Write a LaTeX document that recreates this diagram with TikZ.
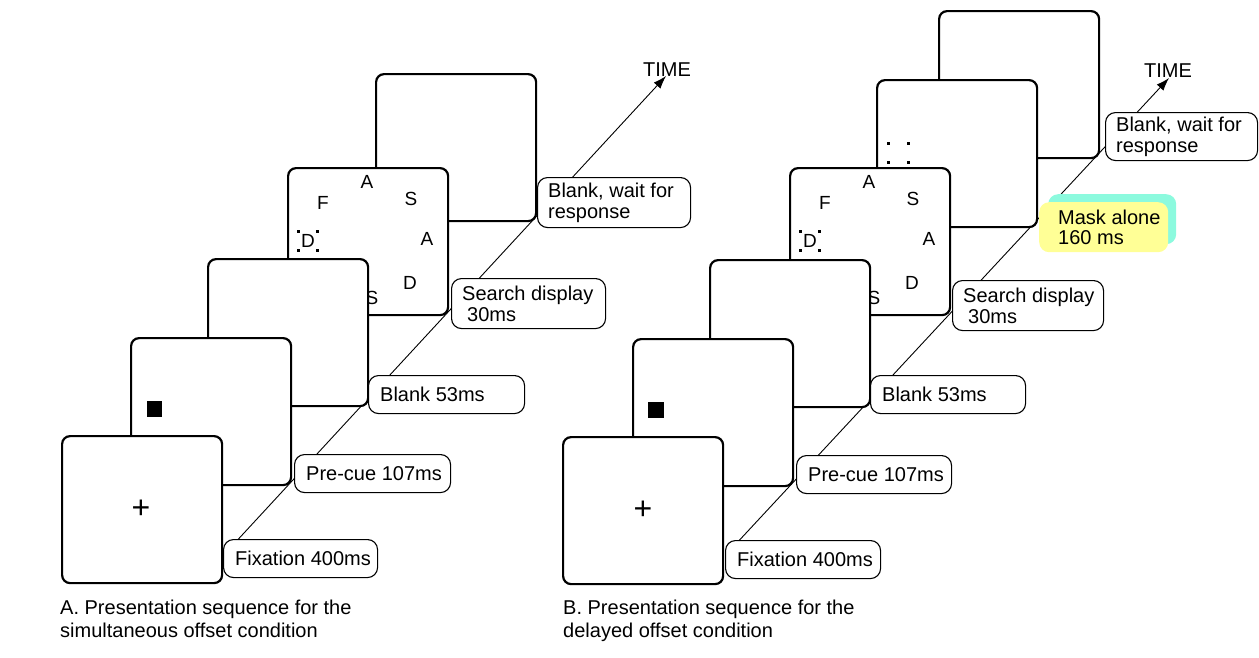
\documentclass[tikz,border=0pt]{standalone}
\usepackage{fontspec}
\setmainfont{Liberation Sans}
\usetikzlibrary{arrows.meta}
\definecolor{maskyellow}{RGB}{255,255,150}
\definecolor{maskcyan}{RGB}{140,250,222}
\newcommand\searchcontent{%
  \node[letter] (l1) at (367,182) {A};
  \node[letter] (l2) at (323,203) {F};
  \node[letter] (l3) at (411,199) {S};
  \node[letter] (l4) at (308,241) {D};
  \node[letter] (l5) at (427,239) {A};
  \node[letter] (l6) at (410,283) {D};
  \node[letter] (l7) at (372,298) {S};
  \fill (297,229.5) rectangle ++(3,3);
  \fill (316,229.5) rectangle ++(3,3);
  \fill (297,248.5) rectangle ++(3,3);
  \fill (316,248.5) rectangle ++(3,3);
}
\begin{document}
\begin{tikzpicture}[x=1pt,y=-1pt,
  frame/.style={draw, line width=2.2pt, rounded corners=8pt, fill=white,
    anchor=north west, minimum width=160pt, minimum height=147pt, inner sep=0pt},
  lab/.style={draw, line width=1.1pt, rounded corners=10pt, fill=white,
    anchor=north west, inner sep=0pt},
  labtext/.style={anchor=west, inner sep=0pt, align=left,
    font=\fontsize{20}{21}\selectfont},
  letter/.style={font=\fontsize{19}{19}\selectfont, inner sep=0pt},
  timearrow/.style={line width=0.9pt, -{Latex[length=13pt,width=9pt]}},
  txt/.style={font=\fontsize{20}{23}\selectfont, inner sep=0pt}]
\useasboundingbox (0,0) rectangle (1259,657);

% ---------------- Panel A ----------------
\coordinate (tA0) at (232,546);
\coordinate (tA1) at (666,76);
\draw[timearrow] (tA0) -- (tA1);
\node[txt] (timeA) at (667,70) {TIME};

\node[frame] (a5) at (375,73) {};
\node[frame] (a4) at (287,167) {};
\searchcontent
\node[frame] (a3) at (207,258) {};
\node[frame] (a2) at (130,337) {};
\fill (147,401) rectangle (162,417);
\node[frame] (a1) at (61,435) {};
\node[font=\fontsize{32}{32}\selectfont, inner sep=0pt] (fixcrossA) at (141,509) {+};

\node[lab, minimum width=154pt, minimum height=38pt] (fixA) at (223,539) {};
\node[labtext] (fixAt) at ([xshift=12pt]fixA.west) {Fixation 400ms};
\node[lab, minimum width=156pt, minimum height=38pt] (preA) at (294,454) {};
\node[labtext] (preAt) at ([xshift=12pt]preA.west) {Pre-cue 107ms};
\node[lab, minimum width=156pt, minimum height=38pt] (blankA) at (368,375) {};
\node[labtext] (blankAt) at ([xshift=12pt]blankA.west) {Blank 53ms};
\node[lab, minimum width=154pt, minimum height=50pt] (searchA) at (451,278) {};
\node[labtext] (searchAt) at ([xshift=11pt]searchA.west) {Search display\\\hspace*{5pt}30ms};
\node[lab, minimum width=153pt, minimum height=50pt] (waitA) at (537,177) {};
\node[labtext] (waitAt) at ([xshift=11pt]waitA.west) {Blank, wait for\\response};

\node[txt, anchor=north west, align=left] (capA) at (60,600) {A. Presentation sequence for the\\simultaneous offset condition};

% ---------------- Panel B ----------------
\coordinate (tB0) at (734,546);
\coordinate (tB1) at (1169,78);
\draw[timearrow] (tB0) -- (tB1);
\node[txt] (timeB) at (1168,71) {TIME};

\node[frame] (b6) at (938,10) {};
\node[frame] (b5) at (876,79) {};
\fill (886.5,141.5) rectangle ++(3,3);
\fill (906.5,141.5) rectangle ++(3,3);
\fill (886.5,160.5) rectangle ++(3,3);
\fill (906.5,160.5) rectangle ++(3,3);
\node[frame] (b4) at (789,167) {};
\begin{scope}[xshift=502pt]
\searchcontent
\end{scope}
\node[frame] (b3) at (709,259) {};
\node[frame] (b2) at (632,338) {};
\fill (648,402) rectangle (664,418);
\node[frame] (b1) at (562,436) {};
\node[font=\fontsize{32}{32}\selectfont, inner sep=0pt] (fixcrossB) at (643,510) {+};

\node[lab, minimum width=155pt, minimum height=38pt] (fixB) at (725,540) {};
\node[labtext] (fixBt) at ([xshift=12pt]fixB.west) {Fixation 400ms};
\node[lab, minimum width=155pt, minimum height=38pt] (preB) at (796,455) {};
\node[labtext] (preBt) at ([xshift=12pt]preB.west) {Pre-cue 107ms};
\node[lab, minimum width=155pt, minimum height=38pt] (blankB) at (870,375) {};
\node[labtext] (blankBt) at ([xshift=12pt]blankB.west) {Blank 53ms};
\node[lab, minimum width=151pt, minimum height=50pt] (searchB) at (952,280) {};
\node[labtext] (searchBt) at ([xshift=11pt]searchB.west) {Search display\\\hspace*{5pt}30ms};
\node[lab, minimum width=152pt, minimum height=48pt] (waitB) at (1105,112) {};
\node[labtext] (waitBt) at ([xshift=11pt]waitB.west) {Blank, wait for\\response};

\node[fill=maskcyan, rounded corners=10pt, anchor=north west, minimum width=128pt, minimum height=50pt, inner sep=0pt] (maskshadow) at (1048,194) {};
\node[fill=maskyellow, rounded corners=10pt, anchor=north west, minimum width=129pt, minimum height=50pt, inner sep=0pt] (mask) at (1039,202) {};
\node[labtext, font=\fontsize{20}{20}\selectfont] (maskt) at ([xshift=19pt]mask.west) {Mask alone\\160 ms};

\node[txt, anchor=north west, align=left] (capB) at (563,600) {B. Presentation sequence for the\\delayed offset condition};
\end{tikzpicture}
\end{document}
